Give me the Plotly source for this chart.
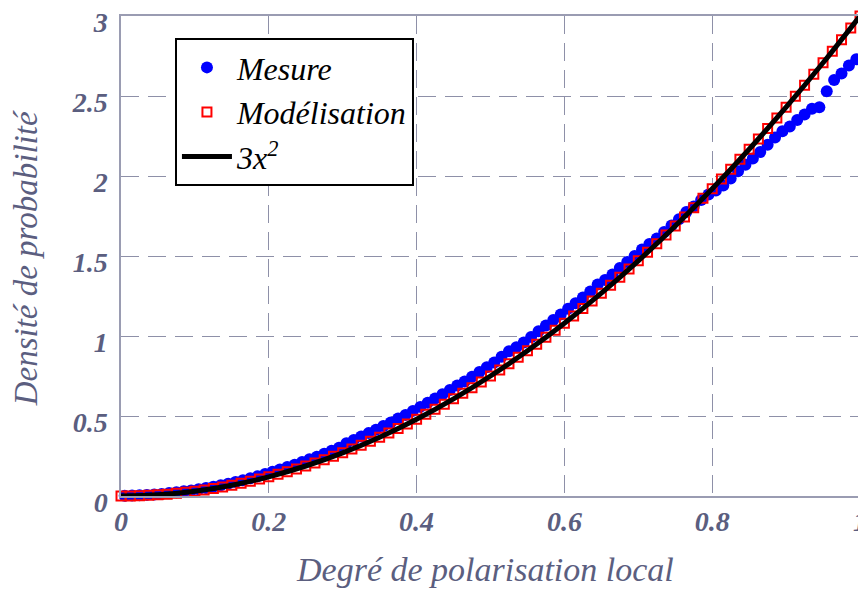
import plotly.graph_objects as go

# ---- data ----
mesure_x = [round(0.005 + 0.01 * i, 3) for i in range(100)]
mesure_y = [0.002, 0.003, 0.005, 0.007, 0.010, 0.013, 0.018, 0.023, 0.029, 0.035,
            0.042, 0.050, 0.058, 0.067, 0.077, 0.088, 0.099, 0.111, 0.124, 0.137,
            0.151, 0.166, 0.181, 0.196, 0.212, 0.229, 0.246, 0.264, 0.283, 0.301,
            0.330, 0.350, 0.372, 0.393, 0.414, 0.437, 0.460, 0.484, 0.507, 0.532,
            0.557, 0.583, 0.610, 0.636, 0.663, 0.690, 0.716, 0.746, 0.775, 0.804,
            0.835, 0.870, 0.905, 0.930, 0.960, 0.994, 1.030, 1.065, 1.100, 1.135,
            1.170, 1.205, 1.240, 1.278, 1.322, 1.350, 1.385, 1.425, 1.462, 1.500,
            1.540, 1.575, 1.610, 1.650, 1.690, 1.730, 1.775, 1.810, 1.850, 1.885,
            1.910, 1.940, 1.985, 2.030, 2.070, 2.110, 2.150, 2.195, 2.240, 2.280,
            2.310, 2.350, 2.385, 2.420, 2.430, 2.530, 2.600, 2.640, 2.690, 2.730]

model_x = [round(0.0125 * k, 4) for k in range(81)]
model_y = [0.0, 0.0005, 0.0019, 0.0042, 0.0075, 0.0117, 0.0169, 0.0230, 0.0300, 0.0380,
           0.0469, 0.0567, 0.0675, 0.0792, 0.0919, 0.1055, 0.1200, 0.1355, 0.1519, 0.1692,
           0.1875, 0.2067, 0.2269, 0.2480, 0.2700, 0.2930, 0.3169, 0.3417, 0.3675, 0.3942,
           0.4219, 0.4505, 0.4800, 0.5105, 0.5419, 0.5742, 0.6075, 0.6417, 0.6769, 0.7130,
           0.7500, 0.7880, 0.8269, 0.8667, 0.9075, 0.9492, 0.9919, 1.0355, 1.0800, 1.1255,
           1.1719, 1.2192, 1.2675, 1.3167, 1.3669, 1.4180, 1.4700, 1.5230, 1.5769, 1.6317,
           1.6875, 1.7442, 1.8019, 1.8605, 1.9200, 1.9805, 2.0419, 2.1042, 2.1675, 2.2317,
           2.2969, 2.3630, 2.4300, 2.4980, 2.5669, 2.6367, 2.7075, 2.7792, 2.8519, 2.9255,
           3.0000]

curve_x = [0.0, 0.05, 0.1, 0.15, 0.2, 0.25, 0.3, 0.35, 0.4, 0.45, 0.5,
           0.55, 0.6, 0.65, 0.7, 0.75, 0.8, 0.85, 0.9, 0.95, 1.0]
curve_y = [0.0, 0.0075, 0.03, 0.0675, 0.12, 0.1875, 0.27, 0.3675, 0.48, 0.6075, 0.75,
           0.9075, 1.08, 1.2675, 1.47, 1.6875, 1.92, 2.1675, 2.43, 2.7075, 3.0]

x_ticks = [0, 0.2, 0.4, 0.6, 0.8, 1]
x_ticklabels = ["0", "0.2", "0.4", "0.6", "0.8", "1"]
y_ticks = [0, 0.5, 1, 1.5, 2, 2.5, 3]
y_ticklabels = ["0", "0.5", "1", "1.5", "2", "2.5", "3"]

# ---- styles ----
tick_color = "#5b5e7f"
grid_color = "#8e90a8"
serif = "Times New Roman, Liberation Serif, Times, serif"

fig = go.Figure()
fig.add_trace(go.Scatter(x=mesure_x, y=mesure_y, mode="markers", name="Mesure",
                         marker=dict(symbol="circle", size=12, color="#0000ff",
                                     line=dict(width=0)),
                         cliponaxis=False))
fig.add_trace(go.Scatter(x=model_x, y=model_y, mode="markers", name="Modélisation",
                         marker=dict(symbol="square-open", size=9, color="#ff0000",
                                     line=dict(width=2, color="#ff0000")),
                         cliponaxis=False))
fig.add_trace(go.Scatter(x=curve_x, y=curve_y, mode="lines", name="3x<sup>2</sup>",
                         line=dict(color="black", width=5, shape="spline"),
                         cliponaxis=False))

axis_common = dict(
    showgrid=True, gridcolor=grid_color, gridwidth=1.3, griddash="18px,9px",
    showline=True, linecolor="#9a9cb2", linewidth=1.5, mirror=True,
    zeroline=False, ticks="", ticklabeloverflow="allow", automargin=False,
    tickfont=dict(family=serif, size=28, color=tick_color, weight="bold", style="italic"),
)

fig.update_xaxes(range=[0, 1], tickvals=x_ticks, ticktext=x_ticklabels, **axis_common)
fig.update_yaxes(range=[0, 3], tickvals=y_ticks, ticktext=y_ticklabels, ticklabelstandoff=6,
                 ticklabelshift=6, **axis_common)

# page has an 8px body margin: figure is shifted by 8px right/down
fig.update_layout(
    width=858, height=582,
    margin=dict(l=113, r=6, t=8, b=94, autoexpand=False),
    paper_bgcolor="white", plot_bgcolor="white",
    showlegend=True,
    legend=dict(x=0.073, y=0.954, xanchor="left", yanchor="top",
                bgcolor="white", bordercolor="black", borderwidth=2,
                font=dict(family=serif, size=32, color="black", style="italic"),
                itemwidth=50, tracegroupgap=0),
    annotations=[
        dict(text="Degré de polarisation local", xref="paper", yref="paper",
             x=0.4925, y=-0.154, xanchor="center", yanchor="middle", showarrow=False,
             font=dict(family=serif, size=34, color=tick_color, style="italic")),
        dict(text="Densité de probabilité", xref="paper", yref="paper",
             x=-0.128, y=0.496, xanchor="center", yanchor="middle", showarrow=False,
             textangle=-90,
             font=dict(family=serif, size=33, color=tick_color, style="italic")),
    ],
)

fig.write_html("out.html")
